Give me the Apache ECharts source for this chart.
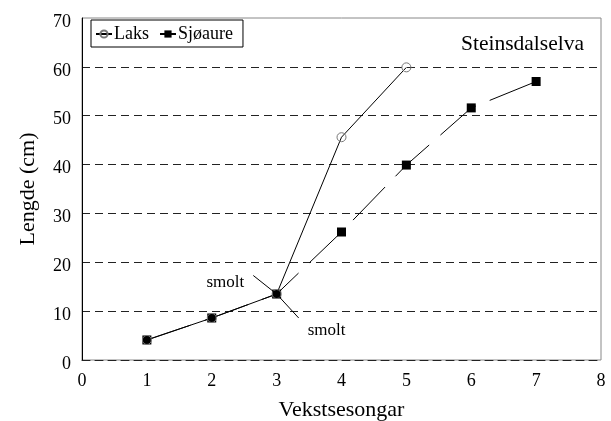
<!DOCTYPE html>
<html>
<head>
<meta charset="utf-8">
<script src="https://cdn.jsdelivr.net/npm/echarts@6/dist/echarts.min.js"></script>
<style>html,body{margin:0;padding:0;background:#fff}#c{width:611px;height:421px}</style>
</head>
<body>
<div id="c"></div>
<script>
var laksX = [1, 2, 3, 4, 5];
var laksY = [4.1, 8.6, 13.5, 45.6, 59.9];
var sjoX = [1, 2, 3, 4, 5, 6, 7];
var sjoY = [4.1, 8.6, 13.5, 26.2, 39.9, 51.6, 57.0];
var xTicks = [0, 1, 2, 3, 4, 5, 6, 7, 8];
var yTicks = [0, 10, 20, 30, 40, 50, 60, 70];
var smoltLines = [[[2.64, 17.3], [3, 13.5]], [[3, 13.5], [3.34, 8.6]]];
var smoltLabels = [[2.21, 15.9], [3.77, 6.1]];

var F = 'Liberation Serif';
function pairs(xs, ys) { return xs.map(function (x, i) { return [x, ys[i]]; }); }

var chart = echarts.init(document.getElementById('c'), null, { renderer: 'canvas' });
chart.setOption({
  animation: false,
  backgroundColor: '#fff',
  textStyle: { fontFamily: F, color: '#000' },
  grid: { left: 82, right: 10, top: 18, bottom: 61, containLabel: false, outerBoundsMode: 'none',
    show: true, borderColor: '#888', borderWidth: 1, backgroundColor: 'transparent' },
  title: {
    text: 'Steinsdalselva', left: 461, top: 33, padding: 0,
    textStyle: { fontFamily: F, fontSize: 21.5, fontWeight: 'normal', color: '#000' }
  },
  legend: {
    left: 91, top: 20, orient: 'horizontal',
    borderColor: '#000', borderWidth: 1, padding: [5, 10, 4, 4],
    itemGap: 10, itemWidth: 16, itemHeight: 9,
    textStyle: { fontFamily: F, fontSize: 18, color: '#000', padding: [0, 0, 0, -3] },
    data: ['Laks', 'Sjøaure']
  },
  xAxis: {
    type: 'value', min: 0, max: 8, interval: 1,
    name: 'Vekstsesongar', nameLocation: 'middle', nameGap: 39,
    nameTextStyle: { fontFamily: F, fontSize: 22, color: '#000' },
    axisLine: { show: true, lineStyle: { color: '#222', width: 1, type: [8, 5] } },
    axisTick: { show: false },
    axisLabel: { fontFamily: F, fontSize: 18, color: '#000', margin: 12,
      formatter: function (v) { return xTicks.indexOf(v) >= 0 ? String(v) : ''; } },
    splitLine: { show: false }
  },
  yAxis: {
    type: 'value', min: 0, max: 70, interval: 10,
    name: 'Lengde (cm)', nameLocation: 'middle', nameGap: 43, nameRotate: 90,
    nameTextStyle: { fontFamily: F, fontSize: 22, color: '#000' },
    axisLine: { show: true, lineStyle: { color: '#000', width: 1 } },
    axisTick: { show: false },
    axisLabel: { fontFamily: F, fontSize: 18, color: '#000', margin: 11, verticalAlign: 'top', lineHeight: 8,
      formatter: function (v) { return yTicks.indexOf(v) >= 0 ? String(v) : ''; } },
    splitLine: { show: true, showMinLine: false, showMaxLine: false, lineStyle: { color: '#222', width: 1, type: [8, 5] } }
  },
  series: [
    {
      name: 'Sjøaure', type: 'line', data: pairs(sjoX, sjoY),
      symbol: 'rect', symbolSize: 9,
      itemStyle: { color: '#000' },
      lineStyle: { color: '#000', width: 1, type: [46, 15], dashOffset: 0 },
      z: 3,
      markLine: {
        silent: true, symbol: ['none', 'none'],
        lineStyle: { color: '#000', width: 1, type: 'solid' },
        label: { show: false },
        data: smoltLines.map(function (l) { return [{ coord: l[0] }, { coord: l[1] }]; })
      },
      markPoint: {
        silent: true, symbol: 'circle', symbolSize: 1,
        itemStyle: { color: 'transparent' },
        label: { show: true, position: 'inside', formatter: 'smolt', fontFamily: F, fontSize: 17, color: '#000' },
        data: smoltLabels.map(function (p) { return { coord: p }; })
      }
    },
    {
      name: 'Laks', type: 'line', data: pairs(laksX, laksY),
      symbol: 'circle', symbolSize: 9,
      itemStyle: { color: 'rgba(255,255,255,0)', borderColor: '#777', borderWidth: 1 },
      lineStyle: { color: '#000', width: 1 },
      z: 4
    }
  ]
});
</script>
</body>
</html>
